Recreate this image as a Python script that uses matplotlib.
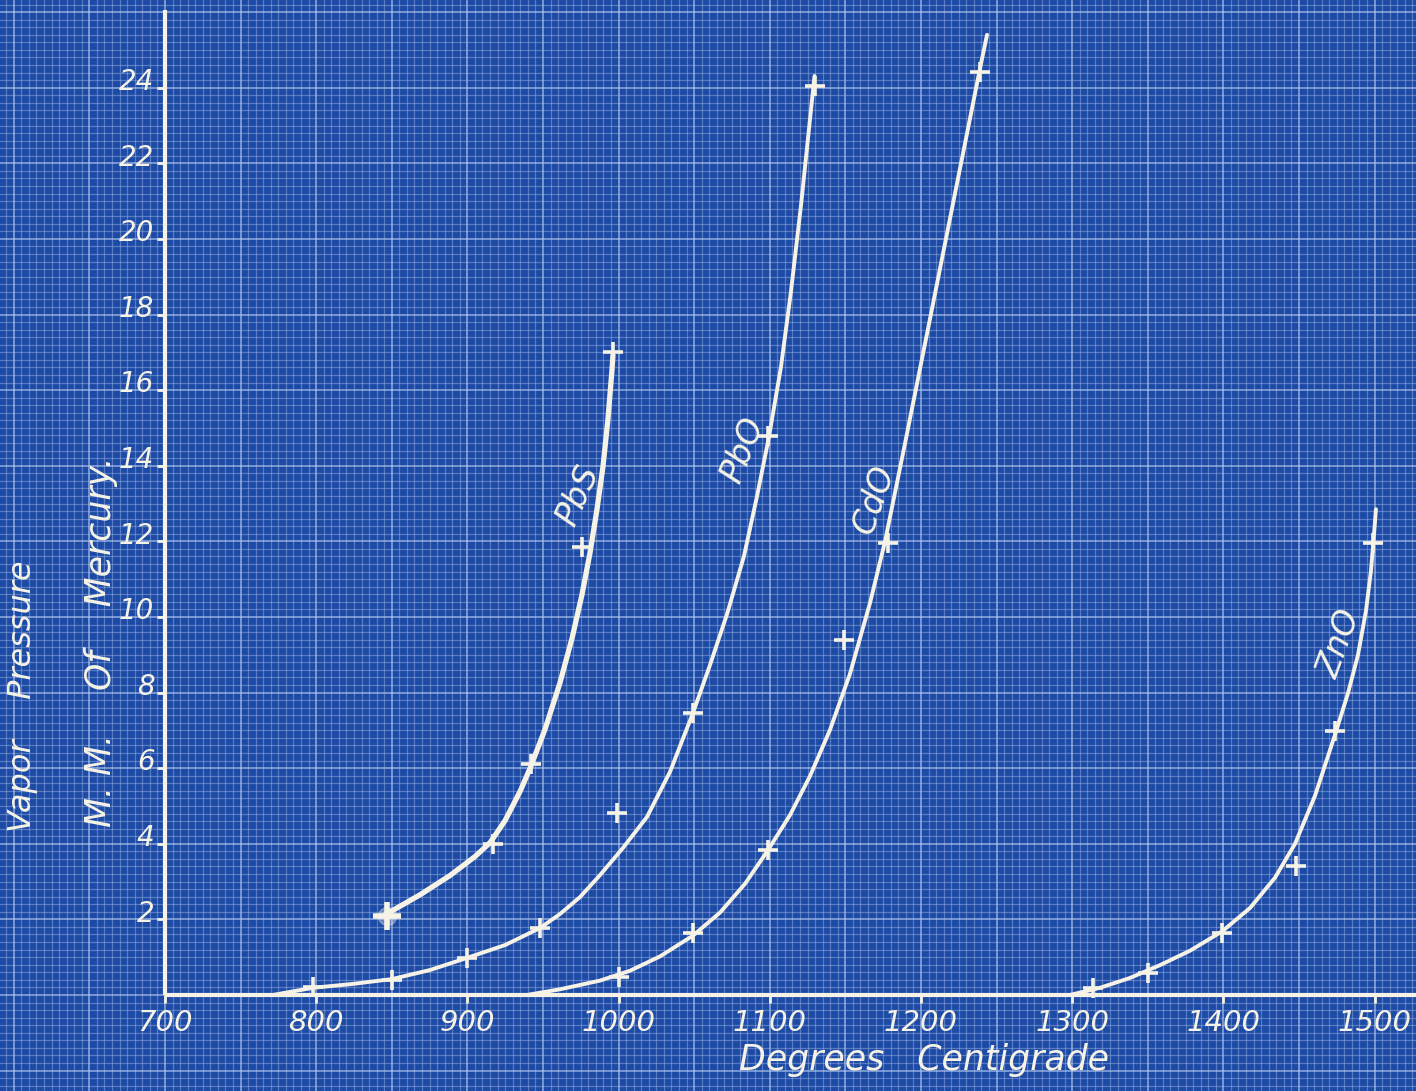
import numpy as np
import matplotlib
matplotlib.use("Agg")
import matplotlib.pyplot as plt
from matplotlib.ticker import MultipleLocator

# ---------------- data ----------------
# hand-drawn curves (temperature in deg C, vapour pressure in mm Hg)
pbs_curve_t = [845.5, 868.7, 888.5, 905.0, 915.0, 924.9, 934.8, 941.4, 951.3, 961.2, 969.2,
               975.8, 981.1, 985.7, 989.7, 993.0, 995.6, 996.3]
pbs_curve_p = [2.12, 2.65, 3.16, 3.66, 4.03, 4.61, 5.38, 5.99, 7.02, 8.25, 9.43,
               10.59, 11.69, 12.84, 13.98, 15.24, 16.51, 16.93]
pbs_pts_t = [847, 917, 942, 976, 996]
pbs_pts_p = [2.1, 4.0, 6.1, 11.85, 17.0]

pbo_curve_t = [771.4, 797.9, 823.7, 850.1, 875.3, 899.7, 924.9, 948.0, 961.2, 974.5, 987.7, 1002.9,
               1018.8, 1034.0, 1049.2, 1060.4, 1071.7, 1082.9, 1091.5, 1099.5, 1107.4, 1114.0,
               1120.6, 1127.2, 1129.6]
pbo_curve_p = [0.0, 0.19, 0.29, 0.42, 0.66, 0.98, 1.32, 1.77, 2.14, 2.59, 3.17, 3.89,
               4.71, 5.90, 7.46, 8.72, 10.07, 11.60, 13.18, 14.77, 16.61, 18.60,
               20.87, 23.39, 24.31]
pbo_pts_t = [798, 850, 900, 948, 999, 1049, 1099, 1130]
pbo_pts_p = [0.21, 0.40, 0.98, 1.77, 4.81, 7.46, 14.79, 24.05]

cdo_curve_t = [939.4, 961.2, 987.7, 1007.5, 1027.4, 1049.2, 1067.1, 1083.6, 1098.8, 1113.4, 1126.6,
               1139.8, 1153.0, 1166.3, 1176.2, 1189.4, 1206.0, 1222.5, 1239.0, 1243.7]
cdo_curve_p = [0.0, 0.15, 0.38, 0.64, 1.02, 1.57, 2.18, 2.94, 3.83, 4.76, 5.79,
               7.01, 8.49, 10.37, 11.99, 14.58, 17.89, 21.20, 24.50, 25.40]
cdo_pts_t = [1000, 1049, 1099, 1149, 1178, 1239]
cdo_pts_p = [0.48, 1.64, 3.84, 9.39, 11.96, 24.42]

zno_curve_t = [1298.5, 1318.4, 1338.2, 1358.1, 1377.9, 1399.1, 1417.6, 1434.1, 1447.4, 1460.6,
               1473.8, 1482.4, 1489.0, 1494.3, 1497.6, 1499.9, 1500.9]
zno_curve_p = [0.0, 0.19, 0.45, 0.79, 1.17, 1.68, 2.30, 3.10, 4.00, 5.27,
               6.88, 7.98, 8.99, 10.16, 11.21, 12.32, 12.85]
zno_pts_t = [1314, 1350, 1399, 1448, 1474, 1499]
zno_pts_p = [0.19, 0.58, 1.64, 3.41, 6.98, 11.96]

x_ticks = [700, 800, 900, 1000, 1100, 1200, 1300, 1400, 1500]
y_ticks = [2, 4, 6, 8, 10, 12, 14, 16, 18, 20, 22, 24]

labels = ["PbS", "PbO", "CdO", "ZnO"]
label_pos = [(973, 13.2), (1082, 14.4), (1169, 13.1), (1477, 9.3)]

# ---------------- style ----------------
BG = "#1c4aa5"
INK = "#f6f3e6"
GRID = "#b8cbf0"
FONT = "DejaVu Sans"

fig = plt.figure(figsize=(14.16, 10.91), dpi=100)
fig.patch.set_facecolor(BG)
ax = fig.add_axes([0, 0, 1, 1])
ax.set_facecolor(BG)

ax.set_xlim(590.9, 1527.4)
ax.set_ylim(-2.54, 26.32)

# graph-paper grid
ax.xaxis.set_major_locator(MultipleLocator(50))
ax.xaxis.set_minor_locator(MultipleLocator(5))
ax.yaxis.set_major_locator(MultipleLocator(2))
ax.yaxis.set_minor_locator(MultipleLocator(0.2))
ax.grid(which="minor", color=GRID, alpha=0.38, lw=0.9)
ax.grid(which="major", color=GRID, alpha=0.6, lw=1.4)
ax.tick_params(which="both", length=0, labelbottom=False, labelleft=False)
for s in ax.spines.values():
    s.set_visible(False)
ax.set_axisbelow(True)

# axes lines
ax.plot([700, 1527.4], [0, 0], color=INK, lw=3.0, solid_capstyle="butt", zorder=3)
ax.plot([700, 700], [0, 26.05], color=INK, lw=3.0, solid_capstyle="butt", zorder=3)
ax.plot([700] * len(y_ticks), y_ticks, ls="none", marker=0, ms=6, mew=2, color=INK, zorder=3)
ax.plot(x_ticks, [0] * len(x_ticks), ls="none", marker=3, ms=6, mew=2, color=INK, zorder=3)

# tick labels
for t in x_ticks:
    ax.text(t, -0.74, str(t), ha="center", va="center", fontsize=21, color=INK,
            family=FONT, style="italic")
for v in y_ticks:
    ax.text(693, v + 0.15, str(v), ha="right", va="center", fontsize=20, color=INK,
            family=FONT, style="italic")

# curves and observation points
series = [
    (pbs_curve_t, pbs_curve_p, pbs_pts_t, pbs_pts_p, 3.8),
    (pbo_curve_t, pbo_curve_p, pbo_pts_t, pbo_pts_p, 2.8),
    (cdo_curve_t, cdo_curve_p, cdo_pts_t, cdo_pts_p, 2.8),
    (zno_curve_t, zno_curve_p, zno_pts_t, zno_pts_p, 2.8),
]
for ct, cp, pt, pp, lw in series:
    ax.plot(ct, cp, color=INK, lw=lw, solid_capstyle="round", solid_joinstyle="round", zorder=4)
    ax.plot(pt, pp, ls="none", marker="+", ms=15, mew=2.6, color=INK, zorder=5)
# the smudged first PbS observation
ax.plot(pbs_pts_t[:1], pbs_pts_p[:1], ls="none", marker="o", ms=13, color=INK, alpha=0.35, zorder=5)
ax.plot(pbs_pts_t[:1], pbs_pts_p[:1], ls="none", marker="+", ms=20, mew=4, color=INK, zorder=5)

# curve labels
rots = [66, 68, 71, 70]
for name, (tx, ty), r in zip(labels, label_pos, rots):
    ax.text(tx, ty, name, rotation=r, ha="center", va="center", fontsize=24, color=INK,
            family=FONT, style="italic", rotation_mode="anchor")

# axis titles
ax.text(1202, -1.72, "Degrees   Centigrade", ha="center", va="center", fontsize=25, color=INK,
        family=FONT, style="italic")
ax.text(606, 7.9, "Vapor    Pressure", rotation=90, ha="center", va="center", fontsize=23,
        color=INK, family=FONT, style="italic")
ax.text(658, 9.35, "M. M.    Of    Mercury.", rotation=90, ha="center", va="center", fontsize=25,
        color=INK, family=FONT, style="italic")

fig.savefig("out.png", dpi=100, facecolor=BG)
